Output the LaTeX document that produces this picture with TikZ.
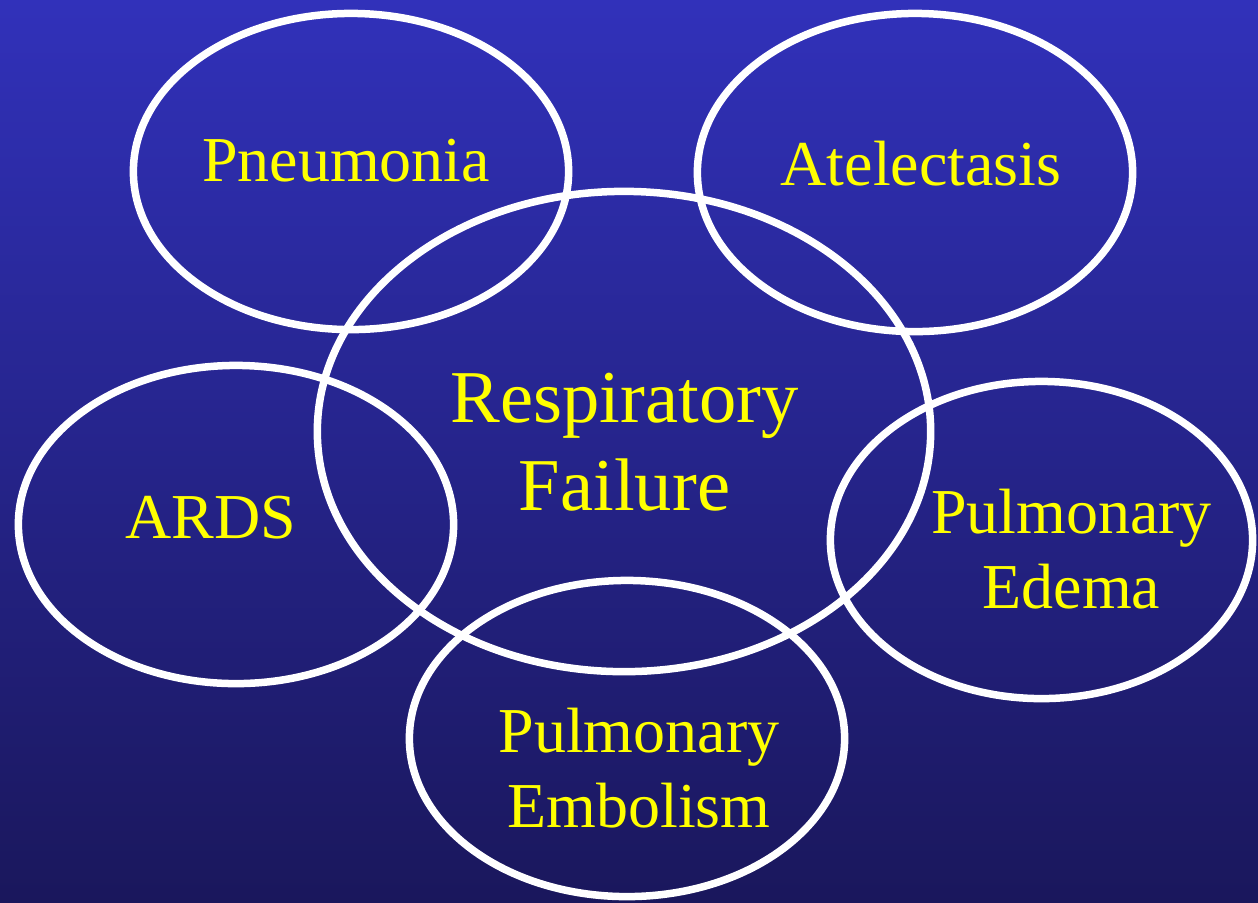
\documentclass[tikz,border=0pt]{standalone}
\usepackage{fontspec}
\setmainfont{Liberation Serif}
\usetikzlibrary{shapes.geometric}
\definecolor{bgTop}   {HTML}{3131BA}
\definecolor{bgBottom}{HTML}{1A175C}
\definecolor{lblYellow}{HTML}{FFFF00}

\begin{document}
\begin{tikzpicture}[
  x=0.01cm, y=-0.01cm,
  ring/.style ={draw=white, ellipse, line width=0.075cm, inner sep=0pt,
                minimum width=4.35cm, minimum height=3.16cm},
  lbl/.style  ={text=lblYellow, font=\fontsize{18.2pt}{21.3pt}\selectfont,
                align=center, anchor=base, inner sep=0pt},
]

% background
\shade[top color=bgTop, bottom color=bgBottom] (0,0) rectangle (1258,902);
\useasboundingbox (0,0) rectangle (1258,902);

\node[ring] (pn) at (351,171.5) {};
\node[ring, minimum height=3.18cm] (at) at (915,172.5) {};
\node[ring, minimum width=6.13cm, minimum height=4.80cm] (rf) at (624,431.5) {};
\node[ring, minimum height=3.18cm] (ar) at (236,524.5) {};
\node[ring, minimum width=4.22cm, minimum height=3.17cm] (pe) at (1041.5,540) {};
\node[ring] (pm) at (627,738.5) {};

% labels (base = last line)
\node[lbl] (pnT) at (346,181) {Pneumonia};
\node[lbl] (atT) at (921,185) {Atelectasis};
\node[lbl, font=\fontsize{21.2pt}{25pt}\selectfont] (rfT) at (624.5,510) {Respiratory\\Failure};
\node[lbl] (arT) at (211,538) {ARDS};
\node[lbl] (peT) at (1071.5,608) {Pulmonary\\Edema};
\node[lbl] (pmT) at (639,827) {Pulmonary\\Embolism};

\end{tikzpicture}
\end{document}
